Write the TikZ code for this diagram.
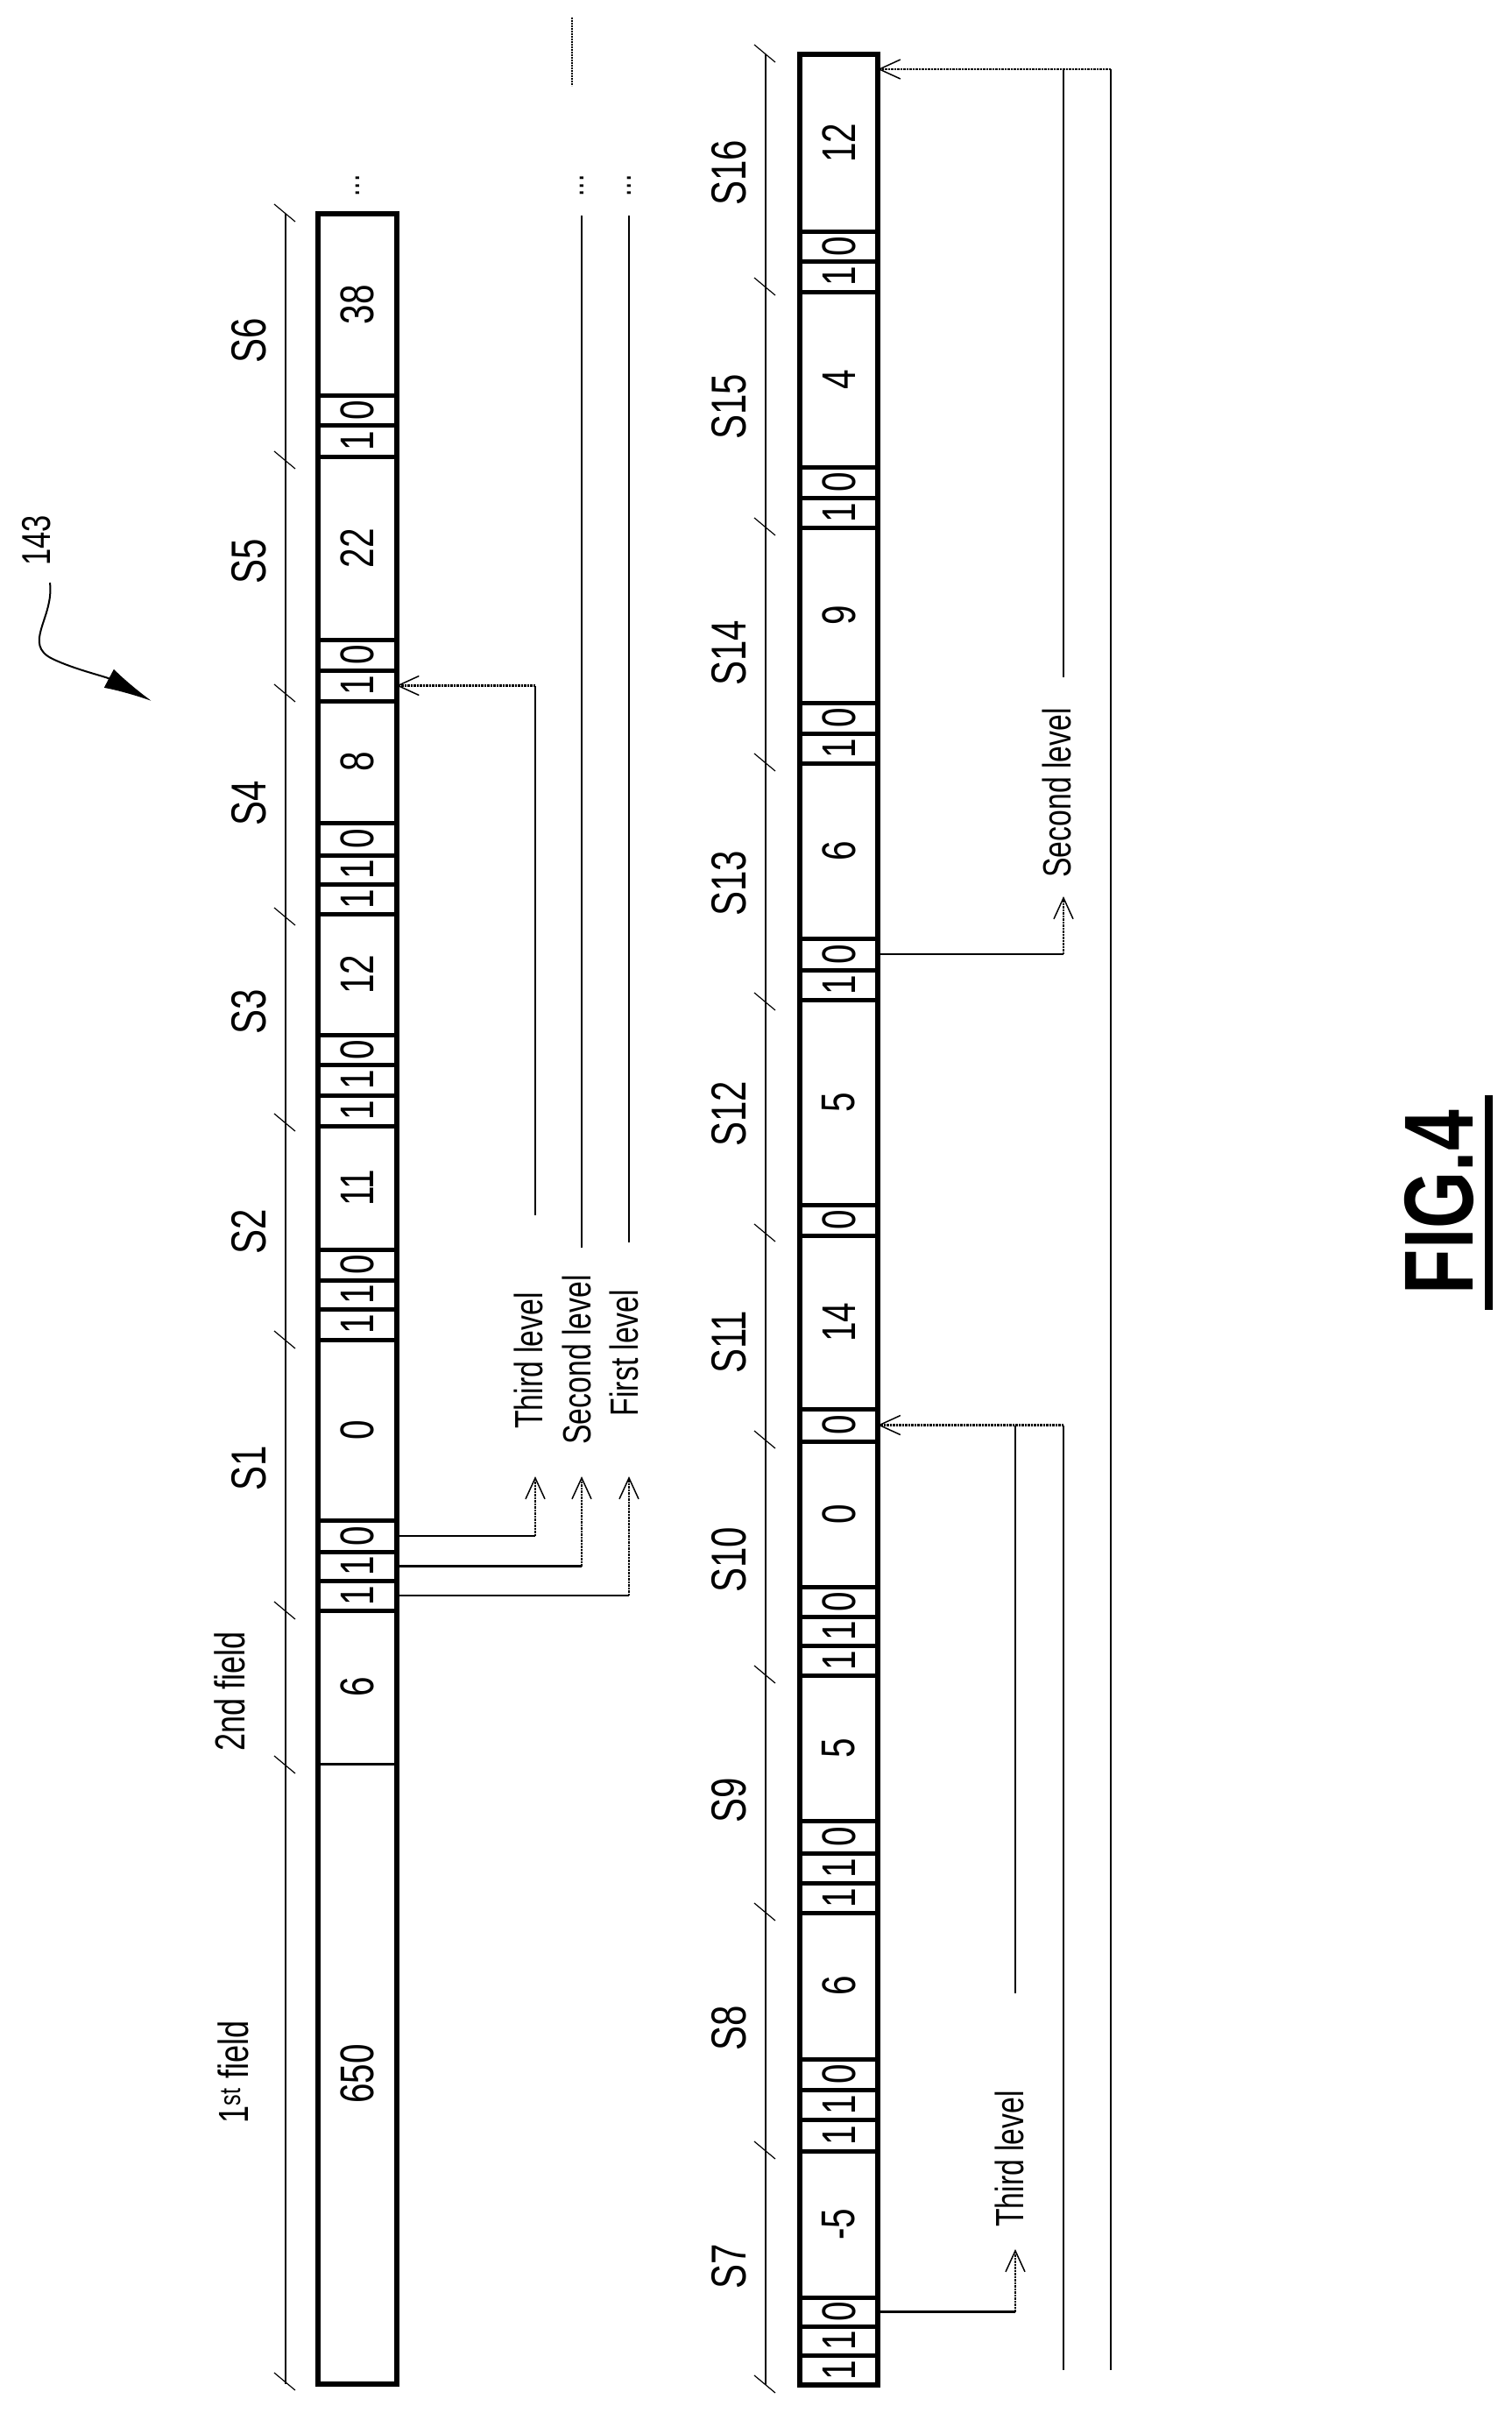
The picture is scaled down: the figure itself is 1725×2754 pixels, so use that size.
\documentclass[tikz,border=0pt]{standalone}
\usepackage{fontspec}
\setmainfont{Liberation Sans}[FakeStretch=0.75]
\usetikzlibrary{arrows.meta}
\tikzset{
  cell/.style={draw, line width=5pt, minimum width=89pt, inner sep=0pt, outer sep=0pt,
    font=\fontsize{54}{54}\selectfont},
  slabel/.style={rotate=90, inner sep=0pt, font=\fontsize{56}{56}\selectfont},
  lvlabel/.style={rotate=90, inner sep=0pt, font=\fontsize{45}{45}\selectfont},
  conn/.style={line width=2.5pt},
  ret/.style={densely dotted, line width=2.5pt, -{Straight Barb[length=24pt,width=22pt,line width=1.5pt]}},
  tick/.style={line width=1.2pt}
}
\begin{document}
\begin{tikzpicture}[x=1pt,y=-1pt]
\path[use as bounding box] (0,0) rectangle (1725,2754);

% upper bar
\foreach \t/\b/\v/\n in {244/451/38/t38, 451/485/0/t6a, 485/521/1/t6b,
  521/730/22/t22, 730/765/0/t5a, 765/800/1/t5b,
  800/939/8/t8, 939/976/0/t4a, 976/1009/1/t4b, 1009/1043/1/t4c,
  1043/1181/12/t12, 1181/1215/0/t3a, 1215/1250/1/t3b, 1250/1285/1/t3c,
  1285/1426/11/t11, 1426/1461/0/t2a, 1461/1494/1/t2b, 1494/1529/1/t2c,
  1529/1735/0/t0, 1735/1771/0/t1a, 1771/1804/1/t1b, 1804/1838/1/t1c}
  \node[cell, minimum height={\b-\t}] (\n) at (408,{(\t+\b)/2}) {\rotatebox{90}{\v}};
\node[cell, line width=3pt, minimum height=175] (tsec) at (408,1925.5) {\rotatebox{90}{6}};
\node[cell, line width=3pt, minimum height=708] (tfirst) at (408,2367) {\rotatebox{90}{650}};
\draw[line width=6pt] (363,244) rectangle (453,2721);

% lower bar
\foreach \t/\b/\v/\n in {62/264/12/b12, 264/298/0/b16a, 298/333/1/b16b,
  333/533/4/b4, 533/568/0/b15a, 568/602/1/b15b,
  602/802/9/b9, 802/837/0/b14a, 837/871/1/b14b,
  871/1071/6/b6, 1071/1107/0/b13a, 1107/1141/1/b13b,
  1141/1375/5/b5, 1375/1410/0/b12a,
  1410/1608/14/b14, 1608/1645/0/b11a,
  1645/1811/0/b0, 1811/1845/0/b10a, 1845/1878/1/b10b, 1878/1912/1/b10c,
  1912/2078/5/b5x, 2078/2115/0/b9a, 2115/2149/1/b9b, 2149/2183/1/b9c,
  2183/2350/6/b6x, 2350/2385/0/b8a, 2385/2419/1/b8b, 2419/2455/1/b8c,
  2455/2622/-5/b5n, 2622/2655/0/b7a, 2655/2688/1/b7b, 2688/2722/1/b7c}
  \node[cell, minimum height={\b-\t}] (\n) at (957.5,{(\t+\b)/2}) {\rotatebox{90}{\v}};
\draw[line width=6pt] (913,62) rectangle (1002,2722);

% scales with ticks
\draw[conn] (326,244) -- (326,2721);
\foreach \y in {244,526,792,1047,1282,1530,1839,2015,2719}
  \draw[tick] (313,\y-11) -- (337,\y+9);
\draw[conn] (874,62) -- (874,2722);
\foreach \y in {62,328,602,871,1144,1408,1644,1912,2183,2455,2722}
  \draw[tick] (861,\y-11) -- (885,\y+9);

% slot labels
\foreach \s/\y in {6/389, 5/641, 4/917, 3/1155, 2/1406, 1/1676}
  \node[slabel] (ls\s) at (284,\y) {S\s};
\foreach \s/\y in {16/197, 15/464, 14/745, 13/1008, 12/1271, 11/1532, 10/1780, 9/2055, 8/2315, 7/2587}
  \node[slabel] (ls\s) at (832,\y) {S\s};
\node[slabel, font=\fontsize{48}{48}\selectfont] (lsec) at (262,1930) {2nd field};
\node[slabel, font=\fontsize{48}{48}\selectfont] (lfirst) at (266,2365) {1\textsuperscript{st} field};

% upper levels
\coordinate (up3) at (611,1685);
\coordinate (up2) at (664,1685);
\coordinate (up1) at (718,1685);
\draw[conn] (t1a.east) -- (t1a.east -| up3);
\draw[conn] (t1b.east) -- (t1b.east -| up2);
\draw[conn] (t1c.east) -- (t1c.east -| up1);
\draw[ret] (t1a.east -| up3) -- (up3);
\draw[ret] (t1b.east -| up2) -- (up2);
\draw[ret] (t1c.east -| up1) -- (up1);
\node[lvlabel] (lt3) at (603,1553) {Third level};
\node[lvlabel] (lt2) at (658,1552) {Second level};
\node[lvlabel] (lt1) at (712,1544) {First level};
\coordinate (r3a) at (611,1387);
\draw[conn] (r3a) -- (r3a |- t5b.east);
\draw[ret] (r3a |- t5b.east) -- (t5b.east);
\coordinate (r2a) at (664,1424);
\coordinate (r1a) at (718,1418);
\draw[conn] (r2a) -- (664,246);
\draw[conn] (r1a) -- (718,246);
\foreach \x in {408,664,718}
  \node[rotate=90, inner sep=0pt, font=\fontsize{40}{40}\selectfont] at (\x,212) {...};
\draw[densely dotted, line width=2pt] (653,20) -- (653,98);

% lower levels
\coordinate (dn2) at (1214,1023);
\coordinate (dn3) at (1159,2567);
\draw[conn] (b13a.east) -- (b13a.east -| dn2);
\draw[ret] (b13a.east -| dn2) -- (dn2);
\node[lvlabel] (lb2) at (1206,905) {Second level};
\draw[conn] (b7a.east) -- (b7a.east -| dn3);
\draw[ret] (b7a.east -| dn3) -- (dn3);
\node[lvlabel] (lb3) at (1152,2464) {Third level};
\coordinate (b12in) at (1002,79);
\coordinate (c2top) at (1214,79);
\coordinate (c1top) at (1268,79);
\draw[conn] (1214,773) -- (c2top);
\draw[conn] (c1top) -- (1268,2705);
\draw[ret] (c1top) -- (b12in);
\coordinate (c3top) at (1159,1626.5);
\coordinate (c2mid) at (1214,1626.5);
\draw[conn] (1159,2275) -- (c3top);
\draw[conn] (1214,2705) -- (c2mid);
\draw[ret] (c2mid) -- (b11a.east);

% reference sign
\node[slabel, font=\fontsize{46}{46}\selectfont] (ref) at (42,617) {143};
\draw[line width=2pt, -{Latex[length=55pt,width=24pt]}] (57,665) .. controls (62,705) and (25,735) .. (60,752) .. controls (85,764) and (120,772) .. (173,800);

% figure caption
\node[slabel, font=\bfseries\fontsize{112}{112}\selectfont] (fig) at (1643,1372) {FIG.4};
\draw[line width=9pt] (1699,1250) -- (1699,1495);
\end{tikzpicture}
\end{document}
